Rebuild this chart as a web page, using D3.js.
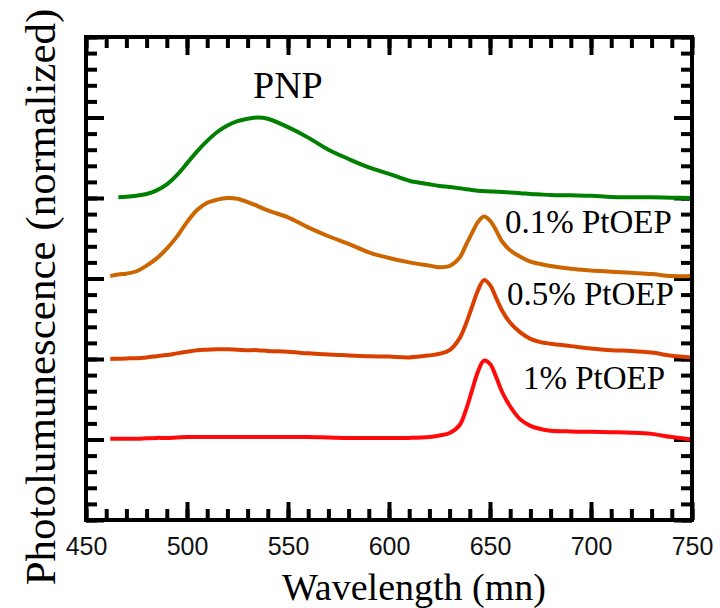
<!DOCTYPE html>
<html lang="en">
<head>
<meta charset="utf-8">
<title>PL spectra</title>
<script src="https://cdn.jsdelivr.net/npm/d3@7"></script>
<style>
  body { margin: 0; background: white; }
  svg { background: white; }
  .tick line { stroke: black; stroke-width: 4; }
  .domain { display: none; }
  .xlab text { font-family: "Liberation Sans", Arial, sans-serif; font-size: 25px; fill: #111; }
</style>
</head>
<body>
<script>
// wavelength grid (nm) and normalized intensities
var wavelength = [462, 466, 470, 475, 480, 485, 490, 495, 500, 505, 510, 515, 520, 525, 530, 535, 540, 550, 560, 570, 580, 590, 600, 610, 620, 625, 630, 635, 638, 641, 644, 647, 650, 653, 656, 660, 665, 670, 675, 680, 690, 700, 710, 720, 730, 740, 750];

var pnp = [null, 0.01, 0.015, 0.028, 0.05, 0.095, 0.17, 0.285, 0.43, 0.58, 0.71, 0.82, 0.90, 0.955, 0.985, 1.0, 0.985, 0.88, 0.75, 0.60, 0.485, 0.38, 0.30, 0.215, 0.17, 0.15, 0.137, 0.12, 0.11, 0.10, 0.09, 0.085, 0.082, 0.078, 0.074, 0.067, 0.06, 0.05, 0.044, 0.038, 0.033, 0.028, 0.013, 0.01, 0.008, 0.004, 0.0];

var pt01 = [0.03, 0.05, 0.06, 0.09, 0.16, 0.25, 0.37, 0.52, 0.70, 0.85, 0.94, 0.98, 1.0, 0.99, 0.95, 0.90, 0.845, 0.76, 0.635, 0.525, 0.43, 0.325, 0.255, 0.20, 0.16, 0.14, 0.155, 0.26, 0.41, 0.56, 0.70, 0.77, 0.72, 0.60, 0.46, 0.35, 0.27, 0.21, 0.18, 0.155, 0.12, 0.10, 0.085, 0.07, 0.055, 0.03, 0.03];

var pt05 = [0.0, 0.003, 0.007, 0.01, 0.02, 0.035, 0.05, 0.07, 0.09, 0.11, 0.115, 0.12, 0.12, 0.115, 0.11, 0.11, 0.10, 0.09, 0.07, 0.055, 0.045, 0.035, 0.03, 0.02, 0.045, 0.065, 0.11, 0.26, 0.43, 0.64, 0.85, 0.98, 0.92, 0.76, 0.60, 0.45, 0.33, 0.25, 0.21, 0.19, 0.16, 0.13, 0.11, 0.10, 0.08, 0.04, 0.02];

var pt1 = [0.01, 0.01, 0.01, 0.01, 0.015, 0.02, 0.02, 0.025, 0.03, 0.03, 0.03, 0.03, 0.03, 0.03, 0.03, 0.03, 0.03, 0.03, 0.03, 0.025, 0.02, 0.02, 0.02, 0.02, 0.03, 0.05, 0.08, 0.18, 0.36, 0.60, 0.84, 0.98, 0.94, 0.78, 0.59, 0.41, 0.25, 0.17, 0.13, 0.11, 0.10, 0.095, 0.09, 0.085, 0.07, 0.03, 0.0];

var seriesNames = ["PNP", "0.1% PtOEP", "0.5% PtOEP", "1% PtOEP"];
var seriesValues = [pnp, pt01, pt05, pt1];
var offsets = [4, 3, 2, 1];
var colors = ["#008000", "#cc6600", "#d94000", "#ff0a0a"];

// label anchors in data units (wavelength, stacked value)
var labelWl = [532.7, 657.4, 658.4, 666.3];
var labelVal = [5.24, 3.565, 2.67, 1.63];
var labelSize = [38, 33, 33, 33];

var xMajor = [450, 500, 550, 600, 650, 700, 750];

var w = 720, h = 608;
var padL = 86, padR = 692, padT = 37, padB = 520;

var svg = d3.select("body").append("svg")
    .attr("width", w)
    .attr("height", h);

var x = d3.scaleLinear().domain([450, 750]).range([padL, padR]);
var y = d3.scaleLinear().domain([0, 6]).range([padB, padT]);

var xMinor = d3.range(450, 751, 10);
var yMinor = d3.range(0, 6.01, 0.2);
var yMajor = d3.range(0, 7, 1);

// ticks on all four sides, pointing inward
function addAxis(axis, tx, ty, cls) {
    svg.append("g")
        .attr("class", cls || "")
        .attr("transform", "translate(" + tx + "," + ty + ")")
        .call(axis);
}

addAxis(d3.axisBottom(x).tickValues(xMinor).tickSize(-11).tickFormat(""), 0, padB);
addAxis(d3.axisBottom(x).tickValues(xMajor).tickSize(-18).tickPadding(17).tickFormat(d3.format("d")), 0, padB, "xlab");
addAxis(d3.axisTop(x).tickValues(xMinor).tickSize(-11).tickFormat(""), 0, padT);
addAxis(d3.axisTop(x).tickValues(xMajor).tickSize(-18).tickFormat(""), 0, padT);
addAxis(d3.axisLeft(y).tickValues(yMinor).tickSize(-11).tickFormat(""), padL, 0);
addAxis(d3.axisLeft(y).tickValues(yMajor).tickSize(-18).tickFormat(""), padL, 0);
addAxis(d3.axisRight(y).tickValues(yMinor).tickSize(-11).tickFormat(""), padR, 0);
addAxis(d3.axisRight(y).tickValues(yMajor).tickSize(-18).tickFormat(""), padR, 0);

// curves
var line = d3.line()
    .defined(function(d) { return d[1] !== null; })
    .x(function(d) { return x(d[0]); })
    .y(function(d) { return y(d[1]); })
    .curve(d3.curveCatmullRom.alpha(0.5));

seriesValues.forEach(function(vals, i) {
    var pts = wavelength.map(function(wl, j) {
        return [wl, vals[j] === null ? null : vals[j] + offsets[i]];
    });
    svg.append("path")
        .datum(pts)
        .attr("fill", "none")
        .attr("stroke", colors[i])
        .attr("stroke-width", 4)
        .attr("stroke-linejoin", "round")
        .attr("d", line);
});

// frame
svg.append("rect")
    .attr("x", padL).attr("y", padT)
    .attr("width", padR - padL).attr("height", padB - padT)
    .attr("fill", "none")
    .attr("stroke", "black")
    .attr("stroke-width", 4);

// series labels
svg.selectAll(".slabel")
    .data(seriesNames)
    .enter()
    .append("text")
    .attr("class", "slabel")
    .attr("x", function(d, i) { return x(labelWl[i]); })
    .attr("y", function(d, i) { return y(labelVal[i]); })
    .style("font-family", "'Liberation Serif', 'Times New Roman', serif")
    .style("font-size", function(d, i) { return labelSize[i] + "px"; })
    .text(function(d) { return d; });

// axis titles
svg.append("text")
    .attr("x", 414)
    .attr("y", 600)
    .attr("text-anchor", "middle")
    .style("font-family", "'Liberation Serif', 'Times New Roman', serif")
    .style("font-size", "38px")
    .text("Wavelength (mn)");

svg.append("text")
    .attr("transform", "translate(55,297) rotate(-90)")
    .attr("text-anchor", "middle")
    .style("font-family", "'Liberation Serif', 'Times New Roman', serif")
    .style("font-size", "43px")
    .text("Photolumunescence (normalized)");
</script>
</body>
</html>
